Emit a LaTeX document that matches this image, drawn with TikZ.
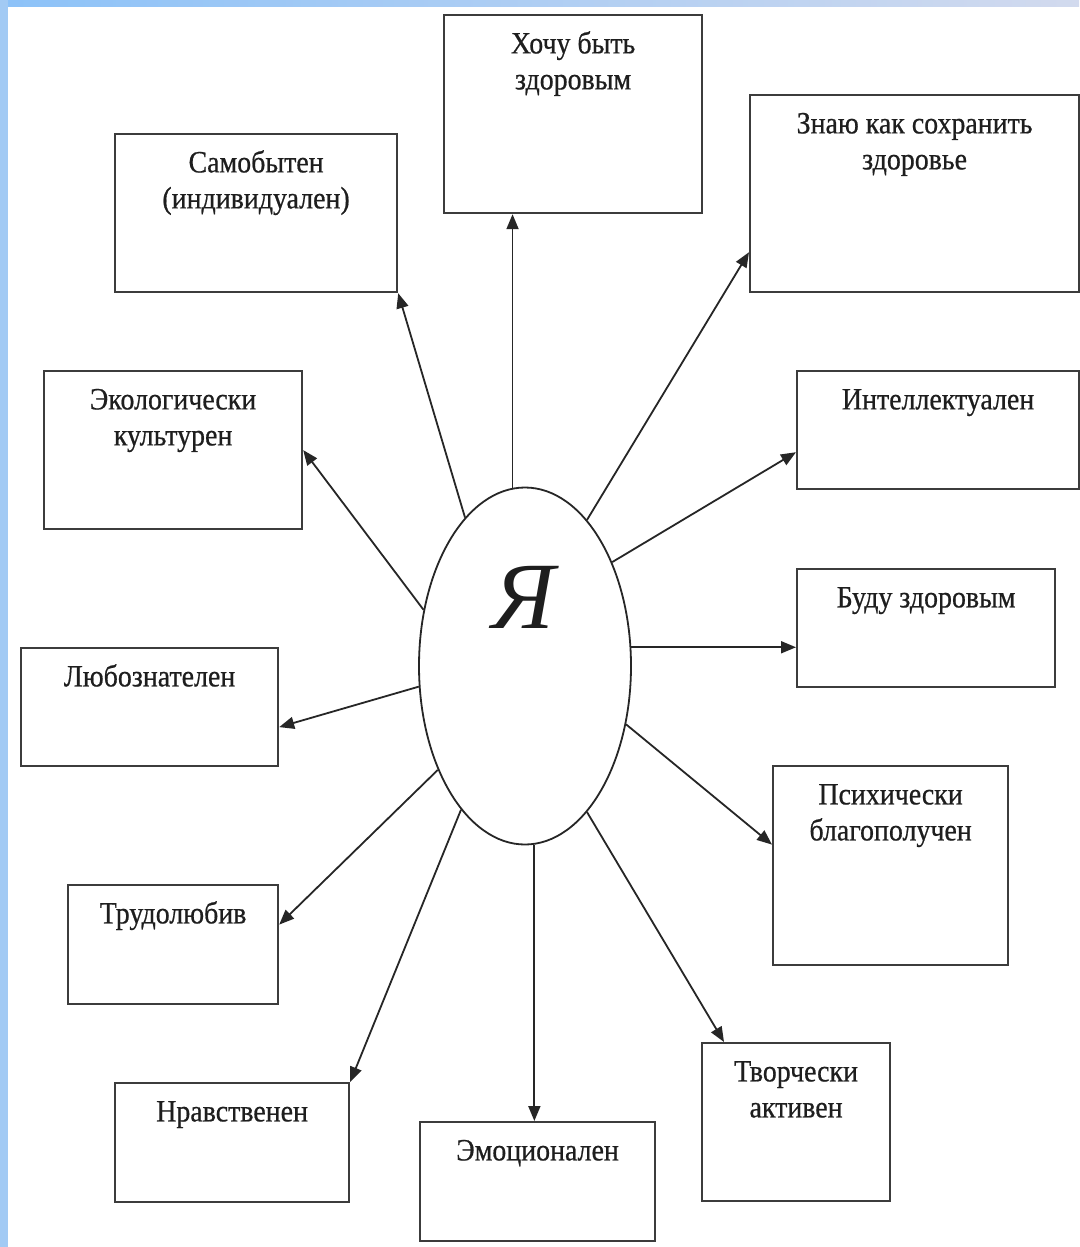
\documentclass[tikz,border=0pt]{standalone}
\usepackage{fontspec}
\setmainfont{Liberation Serif}[FakeStretch=0.9, FakeBold=0.6]
\newfontfamily\yafont{Liberation Serif}
\usetikzlibrary{arrows.meta,shapes.geometric,calc}
\definecolor{boxc}{HTML}{3C3C3C}
\definecolor{txtc}{HTML}{1E1E1E}
\definecolor{bluea}{HTML}{8CC2F8}
\definecolor{blueb}{HTML}{D2DAEE}
\definecolor{bluel}{HTML}{A2CAF4}
\tikzset{
  box/.style={draw=boxc, line width=2.2pt, rectangle, inner sep=0pt, anchor=north west},
  lbl/.style={text=txtc, font=\fontsize{31}{36}\selectfont, align=center, anchor=north, inner sep=0pt},
  arr/.style={draw=black!85, line width=1.8pt, -{Triangle[length=15pt,width=12pt]}}
}
\begin{document}
\begin{tikzpicture}[x=1pt,y=-1pt]
\useasboundingbox (0,0) rectangle (1079,1247);
\fill[white] (0,0) rectangle (1079,1247);
\shade[left color=bluea, right color=blueb] (0,0) rectangle (1079,7);
\fill[bluel] (0,0) rectangle (8,1247);

% boxes
\node[box, minimum width=258, minimum height=198] (hochu) at (443,14) {};
\node[box, minimum width=282, minimum height=158] (samo) at (114,133) {};
\node[box, minimum width=329, minimum height=197] (znayu) at (749,94) {};
\node[box, minimum width=258, minimum height=158] (eko) at (43,370) {};
\node[box, minimum width=282, minimum height=118] (intel) at (796,370) {};
\node[box, minimum width=257, minimum height=118] (lyubo) at (20,647) {};
\node[box, minimum width=258, minimum height=118] (budu) at (796,568) {};
\node[box, minimum width=235, minimum height=199] (psikh) at (772,765) {};
\node[box, minimum width=210, minimum height=119] (trud) at (67,884) {};
\node[box, minimum width=234, minimum height=119] (nrav) at (114,1082) {};
\node[box, minimum width=235, minimum height=119] (emo) at (419,1121) {};
\node[box, minimum width=188, minimum height=158] (tvor) at (701,1042) {};

% labels
\node[lbl] (hochuT) at ([yshift=-14pt]hochu.north) {\strut Хочу быть\\здоровым};
\node[lbl] (samoT) at ([yshift=-14pt]samo.north) {\strut Самобытен\\(индивидуален)};
\node[lbl] (znayuT) at ([yshift=-14pt]znayu.north) {\strut Знаю как сохранить\\здоровье};
\node[lbl] (ekoT) at ([yshift=-14pt]eko.north) {\strut Экологически\\культурен};
\node[lbl] (intelT) at ([yshift=-14pt]intel.north) {\strut Интеллектуален};
\node[lbl] (lyuboT) at ([yshift=-14pt]lyubo.north) {\strut Любознателен};
\node[lbl] (buduT) at ([yshift=-14pt]budu.north) {\strut Буду здоровым};
\node[lbl] (psikhT) at ([yshift=-14pt]psikh.north) {\strut Психически\\благополучен};
\node[lbl] (trudT) at ([yshift=-14pt]trud.north) {\strut Трудолюбив};
\node[lbl] (nravT) at ([yshift=-14pt]nrav.north) {\strut Нравственен};
\node[lbl] (emoT) at ([yshift=-14pt]emo.north) {\strut Эмоционален};
\node[lbl] (tvorT) at ([yshift=-14pt]tvor.north) {\strut Творчески\\активен};

% centre
\node[draw=black!85, line width=1.8pt, ellipse, minimum width=212, minimum height=357, inner sep=0pt] (ell) at (525,666) {};
\node[text=txtc, font=\yafont\fontsize{95}{95}\selectfont\itshape, inner sep=0pt] (ya) at (524,597) {Я};

% connectors
\draw[arr] (ell.94) -- (ell.94 |- hochu.south);
\draw[arr] (ell.112.6) -- (samo.south east);
\draw[arr] (ell.67.4) -- ([yshift=41pt]znayu.south west);
\draw[arr] (ell.151) -- (eko.east);
\draw[arr] (ell.50) -- ([yshift=38pt]intel.south west);
\draw[arr] (ell.10) -- (ell.10 -| budu.west);
\draw[arr] (ell.191) -- ([yshift=-20pt]lyubo.east);
\draw[arr] (ell.330) -- ([yshift=21pt]psikh.west);
\draw[arr] (ell.230.3) -- ([yshift=20pt]trud.east);
\draw[arr] (ell.246.6) -- (nrav.north east);
\draw[arr] (ell.273.8) -- (ell.273.8 |- emo.north);
\draw[arr] (ell.293.3) -- ([xshift=23pt]tvor.north west);
\end{tikzpicture}
\end{document}
